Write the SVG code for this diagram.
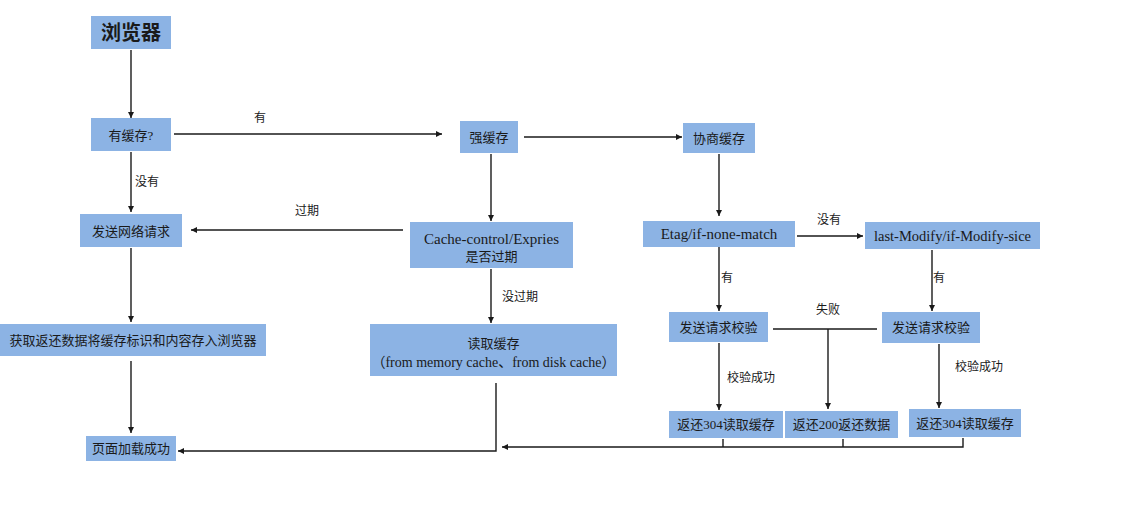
<svg xmlns="http://www.w3.org/2000/svg" width="1138" height="520" viewBox="0 0 1138 520">
<style>
.box{fill:#8cb3e4;}
.t{font-family:"Liberation Serif","Noto Sans CJK SC",serif;font-size:13px;fill:#1a1a1a;text-anchor:middle;dominant-baseline:central;}
.lbl{font-family:"Liberation Serif","Noto Sans CJK SC",serif;font-size:12px;fill:#1a1a1a;text-anchor:middle;dominant-baseline:central;}
.en{font-size:15px;}
.ln{fill:none;stroke:#1a1a1a;stroke-width:1.4;}
</style>
<defs>
<marker id="arr" viewBox="0 0 10 10" refX="10" refY="5" markerWidth="6" markerHeight="6" markerUnits="userSpaceOnUse" orient="auto">
<path d="M0,0 L10,5 L0,10 z" fill="#1a1a1a"/>
</marker>
</defs>
<rect width="1138" height="520" fill="#ffffff"/>

<g id="connectors">
<line class="ln" x1="131" y1="50" x2="131" y2="118" marker-end="url(#arr)"/>
<line class="ln" x1="174" y1="134" x2="442" y2="134" marker-end="url(#arr)"/>
<line class="ln" x1="524" y1="137" x2="682" y2="137" marker-end="url(#arr)"/>
<line class="ln" x1="131" y1="152" x2="131" y2="212" marker-end="url(#arr)"/>
<line class="ln" x1="403" y1="230" x2="191" y2="230" marker-end="url(#arr)"/>
<line class="ln" x1="491" y1="154" x2="491" y2="221" marker-end="url(#arr)"/>
<line class="ln" x1="719" y1="154" x2="719" y2="216" marker-end="url(#arr)"/>
<line class="ln" x1="491" y1="269" x2="491" y2="323" marker-end="url(#arr)"/>
<line class="ln" x1="131" y1="248" x2="131" y2="322" marker-end="url(#arr)"/>
<line class="ln" x1="131" y1="361" x2="131" y2="433" marker-end="url(#arr)"/>
<polyline class="ln" points="496,383 496,451 178,451" marker-end="url(#arr)"/>
<line class="ln" x1="797" y1="236" x2="863" y2="236" marker-end="url(#arr)"/>
<line class="ln" x1="719" y1="247" x2="719" y2="311" marker-end="url(#arr)"/>
<line class="ln" x1="932" y1="250" x2="932" y2="311" marker-end="url(#arr)"/>
<line class="ln" x1="773" y1="329" x2="877" y2="329"/>
<line class="ln" x1="828" y1="329" x2="828" y2="409" marker-end="url(#arr)"/>
<line class="ln" x1="719" y1="343" x2="719" y2="410" marker-end="url(#arr)"/>
<line class="ln" x1="939" y1="344" x2="939" y2="408" marker-end="url(#arr)"/>
<polyline class="ln" points="963,438 963,447 502,447" marker-end="url(#arr)"/>
<line class="ln" x1="723" y1="439" x2="723" y2="447"/>
<line class="ln" x1="843" y1="439" x2="843" y2="447"/>
</g>

<g id="labels">
<text class="lbl" x="260" y="118">有</text>
<text class="lbl" x="147" y="182">没有</text>
<text class="lbl" x="307" y="211">过期</text>
<text class="lbl" x="520" y="297">没过期</text>
<text class="lbl" x="727" y="278">有</text>
<text class="lbl" x="829" y="220">没有</text>
<text class="lbl" x="939" y="278">有</text>
<text class="lbl" x="828" y="310">失败</text>
<text class="lbl" x="751" y="378">校验成功</text>
<text class="lbl" x="979" y="367">校验成功</text>
</g>

<g id="node-browser"><rect class="box" x="91" y="16" width="80" height="33"/><text class="t" x="131" y="33" style="font-size:20px;font-weight:bold">浏览器</text></g>
<g id="node-hascache"><rect class="box" x="91" y="118" width="80" height="33"/><text class="t" x="131" y="135">有缓存?</text></g>
<g id="node-strong"><rect class="box" x="460" y="121" width="58" height="32"/><text class="t" x="489" y="137">强缓存</text></g>
<g id="node-negotiate"><rect class="box" x="683" y="123" width="72" height="30"/><text class="t" x="719" y="138">协商缓存</text></g>
<g id="node-request"><rect class="box" x="80" y="214" width="102" height="33"/><text class="t" x="131" y="231">发送网络请求</text></g>
<g id="node-cachecontrol"><rect class="box" x="410" y="222" width="163" height="46"/><text class="t en" x="491.5" y="239">Cache-control/Expries</text><text class="t" x="491.5" y="256">是否过期</text></g>
<g id="node-etag"><rect class="box" x="643" y="221" width="152" height="26"/><text class="t en" x="719" y="234">Etag/if-none-match</text></g>
<g id="node-lastmodify"><rect class="box" x="865" y="222" width="175" height="27"/><text class="t en" x="952.5" y="235.5" style="font-size:14.5px">last-Modify/if-Modify-sice</text></g>
<g id="node-verify-left"><rect class="box" x="669" y="312" width="99" height="30"/><text class="t" x="718.5" y="327">发送请求校验</text></g>
<g id="node-verify-right"><rect class="box" x="882" y="312" width="98" height="31"/><text class="t" x="931" y="327.5">发送请求校验</text></g>
<g id="node-304-left"><rect class="box" x="669" y="411" width="114" height="27"/><text class="t" x="726" y="424.5">返还304读取缓存</text></g>
<g id="node-200"><rect class="box" x="785" y="411" width="113" height="27"/><text class="t" x="841.5" y="424.5">返还200返还数据</text></g>
<g id="node-304-right"><rect class="box" x="909" y="409" width="112" height="28"/><text class="t" x="965" y="423">返还304读取缓存</text></g>
<g id="node-store"><rect class="box" x="0" y="324" width="266" height="32"/><text class="t" x="133" y="340">获取返还数据将缓存标识和内容存入浏览器</text></g>
<g id="node-readcache"><rect class="box" x="370" y="324" width="247" height="52"/><text class="t" x="493.5" y="343">读取缓存</text><text class="t" x="493.5" y="362" style="font-size:14px">（from memory cache、from disk cache）</text></g>
<g id="node-success"><rect class="box" x="86" y="436" width="90" height="25"/><text class="t" x="131" y="448.5">页面加载成功</text></g>
</svg>
